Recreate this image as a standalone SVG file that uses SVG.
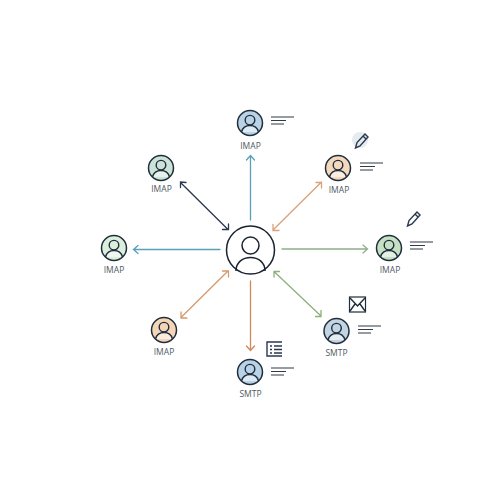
<svg xmlns="http://www.w3.org/2000/svg" width="500" height="500" viewBox="0 0 500 500">
<style>
.r{stroke:#1f2d3d;stroke-width:1.5}
.d{fill:none;stroke:#1f2d3d;stroke-width:1.4}
.t{font-family:"Open Sans","Liberation Sans",Arial,sans-serif;font-size:8.500px;fill:#4f5963;text-anchor:middle}
.l{fill:none;stroke:#2f3b47;stroke-width:1.2}
.c{fill:none;stroke-width:1.300;stroke-linecap:round}
.i{fill:none;stroke:#2a3850;stroke-width:1.400}
</style>
<defs>
<g id="p">
<circle r="12.500" class="r" fill="inherit"/>
<circle cy="-2.800" r="4.800" class="d"/>
<path d="M-8.500 9C-7 3.500-3.500 2.500 0 2.500S7 3.500 8.500 9" fill="#fff" fill-opacity=".55" stroke="#1f2d3d" stroke-width="1.400"/>
</g>
<g id="b"><path class="l" d="M0 0H23M0 3.500H15M0 7H13"/></g>
</defs>
<rect width="500" height="500" fill="#fff"/>
<g id="connectors">
<path class="c" stroke="#5a9fb8" d="M250.500 220V156M246.500 160L250.500 155.500 254.500 160"/>
<path class="c" stroke="#2a3850" d="M180.500 182.500L228 229.500M180.500 187.500V182L186 182.500M222.500 229.500H228.500V224"/>
<path class="c" stroke="#d9a27a" d="M273 230L321.500 182M316 182.500H321.500V188M273 224.500V230.500H279"/>
<path class="c" stroke="#5a9fb8" d="M220 249.500H134M138 245.500L133.500 249.500 138 253.500"/>
<path class="c" stroke="#8fb08a" d="M282 249H367M363 245L367.500 249 363 253"/>
<path class="c" stroke="#d69a6c" d="M228 271L181 317.500M222.500 271H228.500V277M181 312V318H187"/>
<path class="c" stroke="#d08a55" d="M250.500 281V350M246.500 346L250.500 350.500 254.500 346"/>
<path class="c" stroke="#8db07c" d="M274 271.500L321 316M274 277V271.500H279.500M321 310.500V316.500H315.500"/>
</g>
<g id="center"><circle cx="250.500" cy="250" r="24" fill="#fff" stroke="#1a2330" stroke-width="1.500"/><circle cx="250.500" cy="245.500" r="8.500" fill="none" stroke="#1a2330" stroke-width="1.500"/><path d="M236 271C236 262 243 257.500 250.500 257.500S265 262 265 271" fill="none" stroke="#1a2330" stroke-width="1.500"/></g>
<g id="n1" fill="#b9d2e6"><use href="#p" x="250" y="123"/><use href="#b" x="271" y="117"/><text class="t" x="250.500" y="149">IMAP</text></g>
<g id="n2" fill="#f5d9bd"><use href="#p" x="338" y="168"/><use href="#b" x="360" y="163"/><text class="t" x="339" y="193">IMAP</text>
<circle cx="360" cy="140" r="8" fill="#e6ebf0"/><path class="i" d="M355.500 148L357 142.500 365 134 368 137 360 146ZM363 136L366 139"/></g>
<g id="n3" fill="#cce3d8"><use href="#p" x="161" y="168"/><text class="t" x="161.500" y="192">IMAP</text></g>
<g id="n4" fill="#dcefdd"><use href="#p" x="114" y="248"/><text class="t" x="114" y="273">IMAP</text></g>
<g id="n5" fill="#c6e0c4"><use href="#p" x="389" y="248"/><use href="#b" x="410" y="242"/><text class="t" x="390" y="273">IMAP</text>
<path class="i" d="M407.500 226L409 220.500 417 212 420 215 412 224ZM415 214L418 217"/></g>
<g id="n6" fill="#f5d5b8"><use href="#p" x="164" y="330"/><text class="t" x="164" y="355">IMAP</text></g>
<g id="n7" fill="#c3d5e3"><use href="#p" x="336.500" y="331"/><use href="#b" x="358" y="326"/><text class="t" x="336.500" y="356">SMTP</text>
<rect x="349.500" y="297" width="16" height="15" fill="#fff" stroke="#1f2d3d" stroke-width="1.200"/><path class="d" d="M350 298L357.500 306 365 298M350 311L355 304M365 311L360 304"/></g>
<g id="n8" fill="#b9d2e6"><use href="#p" x="250" y="372"/><use href="#b" x="271" y="368"/><text class="t" x="250.500" y="397">SMTP</text>
<path class="i" d="M282 342H267V356H282M270 346H272M270 349.500H272M270 353H272M274 346H282M274 349.500H282M274 353H282"/></g>
</svg>
